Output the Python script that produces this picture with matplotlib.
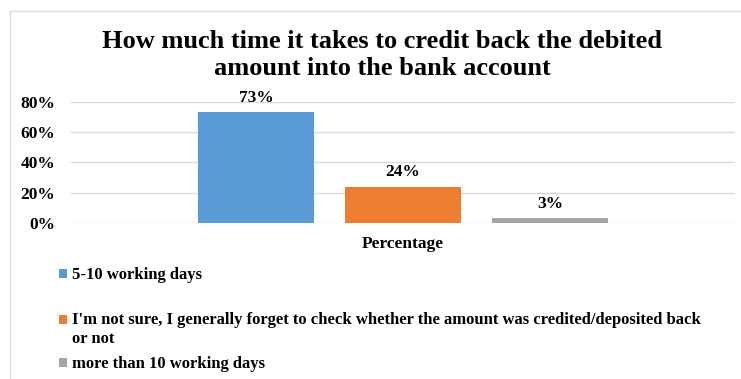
import matplotlib
matplotlib.use("Agg")
import matplotlib.pyplot as plt
from matplotlib.lines import Line2D
from matplotlib.patches import Patch, Rectangle
from matplotlib.legend_handler import HandlerPatch

plt.rcParams['font.family'] = ['Liberation Serif', 'DejaVu Serif']
plt.rcParams['font.weight'] = 'bold'

title_lines = ["How much time it takes to credit back the debited",
               "amount into the bank account"]
category = "Percentage"
series = ["5-10 working days",
          "I'm not sure, I generally forget to check whether the amount was credited/deposited back\nor not",
          "more than 10 working days"]
values = [0.73, 0.24, 0.03]
colors = ["#5B9BD5", "#ED7D31", "#A5A5A5"]
yticks = [0, 0.2, 0.4, 0.6, 0.8]
ytick_labels = ["0%", "20%", "40%", "60%", "80%"]

W, H = 741, 379
fig = plt.figure(figsize=(W/100, H/100), dpi=100)
ax = fig.add_axes([71/W, 1-223/H, (735-71)/W, (223-101.7)/H])

bw = 116/664
step = 147/664
for i, (v, c) in enumerate(zip(values, colors)):
    x = (i - 1) * step
    ax.bar(x, v, width=bw, color=c, zorder=3)
    ax.annotate(f"{round(v*100)}%", (x, v), xytext=(0, 4.5),
                textcoords='offset points', ha='center', va='bottom',
                fontsize=12.5, fontweight='bold', zorder=4,
                annotation_clip=False)

ax.set_xlim(-0.5, 0.5)
ax.set_ylim(0, 0.8)
ax.set_yticks(yticks)
ax.set_yticklabels(ytick_labels, fontsize=12.5, fontweight='bold')
ax.set_xticks([0])
ax.set_xticklabels([category], fontsize=12.5, fontweight='bold')
ax.tick_params(axis='both', length=0)
ax.tick_params(axis='y', pad=11.5)
ax.tick_params(axis='x', pad=9)
ax.grid(axis='y', color='#D9D9D9', linewidth=1, zorder=0)
for s in ax.spines.values():
    s.set_visible(False)

for k, line in enumerate(title_lines):
    fig.text(382/W, 1-(48 + 27*k)/H, line, ha='center', va='baseline',
             fontsize=19, fontweight='bold')


def make_handler(shift):
    def pf(legend, orig_handle, xdescent, ydescent, width, height, fontsize):
        return Rectangle((-xdescent, -ydescent + shift), width, height)
    return HandlerPatch(patch_func=pf)


# legend entries
ypos = [275, 329.5, 364]
shifts = [0, 7.5, 0]
for lab, c, yp, sh in zip(series, colors, ypos, shifts):
    h = Patch(facecolor=c, edgecolor='none')
    fig.legend(handles=[h], labels=[lab],
               loc='center left', bbox_to_anchor=(59/W, 1-yp/H),
               frameon=False, fontsize=12, handlelength=0.45, handleheight=0.45,
               handletextpad=0.3, borderpad=0, borderaxespad=0,
               handler_map={h: make_handler(sh)})

# chart border (cropped)
fig.add_artist(Line2D([10/W, 10/W], [0, 1-11/H], color='#D9D9D9', lw=1))
fig.add_artist(Line2D([10/W, 1], [1-11/H, 1-11/H], color='#D9D9D9', lw=1))

fig.savefig("out.png", dpi=100)
